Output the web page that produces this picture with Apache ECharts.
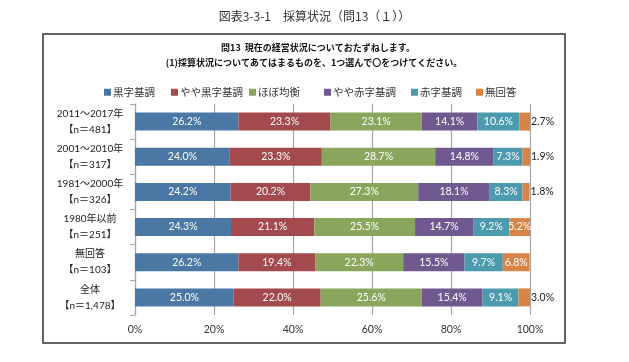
<!DOCTYPE html>
<html><head><meta charset="utf-8">
<script src="https://cdn.jsdelivr.net/npm/echarts@6/dist/echarts.min.js"></script>
<style>html,body{margin:0;padding:0;background:#fff}#c{width:629px;height:362px}</style>
</head><body><div id="c"></div>
<script>
const categories = ['2011～2017年\n【n＝481】','2001～2010年\n【n＝317】','1981～2000年\n【n＝326】','1980年以前\n【n＝251】','無回答\n【n＝103】','全体\n【n＝1,478】'];
const seriesNames = ['黒字基調','やや黒字基調','ほぼ均衡','やや赤字基調','赤字基調','無回答'];
const kuroji = [26.2, 24.0, 24.2, 24.3, 26.2, 25.0];
const yayaKuroji = [23.3, 23.3, 20.2, 21.1, 19.4, 22.0];
const hobo = [23.1, 28.7, 27.3, 25.5, 22.3, 25.6];
const yayaAkaji = [14.1, 14.8, 18.1, 14.7, 15.5, 15.4];
const akaji = [10.6, 7.3, 8.3, 9.2, 9.7, 9.1];
const mukaito = [2.7, 1.9, 1.8, 5.2, 6.8, 3.0];
const xTicks = [0, 20, 40, 60, 80, 100];

const colors = ['#4A77A3','#A24A4D','#8AA55C','#70598F','#4C9AAE','#D88447'];
const allData = [kuroji, yayaKuroji, hobo, yayaAkaji, akaji, mukaito];
const font = 'Lato, "Noto Sans CJK JP", sans-serif';
const jpFont = '"Noto Sans CJK JP", sans-serif';

const series = allData.map((arr, si) => ({
  name: seriesNames[si],
  type: 'bar',
  stack: 'total',
  barWidth: 18,
  itemStyle: { color: colors[si] },
  label: {
    show: true, position: 'inside', color: '#fff', fontSize: 10.5,
    fontFamily: font, formatter: p => p.value.toFixed(1) + '%'
  },
  data: arr.map(v => (si === 5 && v < 4)
    ? { value: v, label: { position: 'right', color: '#222', distance: 1 } }
    : v)
}));

const legendLefts = [99, 166, 244, 319, 406, 471];
const legends = seriesNames.map((n, i) => ({
  data: [n], left: legendLefts[i], top: 82, itemWidth: 7, itemHeight: 7, itemGap: 0,
  icon: 'rect', textStyle: { fontSize: 10.5, fontFamily: jpFont, color: '#333', padding: [0,0,0,-3] }
}));

const chart = echarts.init(document.getElementById('c'), null, { renderer: 'canvas' });
chart.setOption({
  animation: false,
  color: colors,
  graphic: [
    { type: 'rect', shape: { x: 43, y: 34, width: 522, height: 309 }, style: { fill: 'none', stroke: '#333', lineWidth: 1.5 }, z: -1 },
    { type: 'text', left: 'center', top: 10, style: { text: '図表3-3-1　採算状況（問13（１））', font: '12px "Noto Sans CJK JP"', fill: '#333' } },
    { type: 'text', x: 318, y: 48, style: { text: '問13  現在の経営状況についておたずねします。', font: 'bold 9px "Noto Sans CJK JP"', fill: '#111', align: 'center', verticalAlign: 'middle' } },
    { type: 'text', x: 314, y: 63, style: { text: '(1)採算状況についてあてはまるものを、1つ選んで〇をつけてください。', font: 'bold 9px "Noto Sans CJK JP"', fill: '#111', align: 'center', verticalAlign: 'middle' } }
  ],
  legend: legends,
  grid: { left: 135, right: 99, top: 104, bottom: 47 },
  xAxis: {
    type: 'value', min: xTicks[0], max: xTicks[xTicks.length - 1], interval: 20,
    axisLine: { show: false }, axisTick: { show: false },
    axisLabel: { formatter: '{value}%', fontSize: 10.5, fontFamily: font, color: '#333', margin: 9 },
    splitLine: { lineStyle: { color: '#A6A6A6', width: 1.2 } }
  },
  yAxis: {
    type: 'category', inverse: true, data: categories,
    axisLine: { lineStyle: { color: '#A6A6A6', width: 1.2 } },
    axisTick: { show: true, length: 5, lineStyle: { color: '#A6A6A6' } },
    axisLabel: { align: 'center', margin: 45, fontSize: 10, lineHeight: 16, fontFamily: font, color: '#222' }
  },
  series: series
});
</script></body></html>
